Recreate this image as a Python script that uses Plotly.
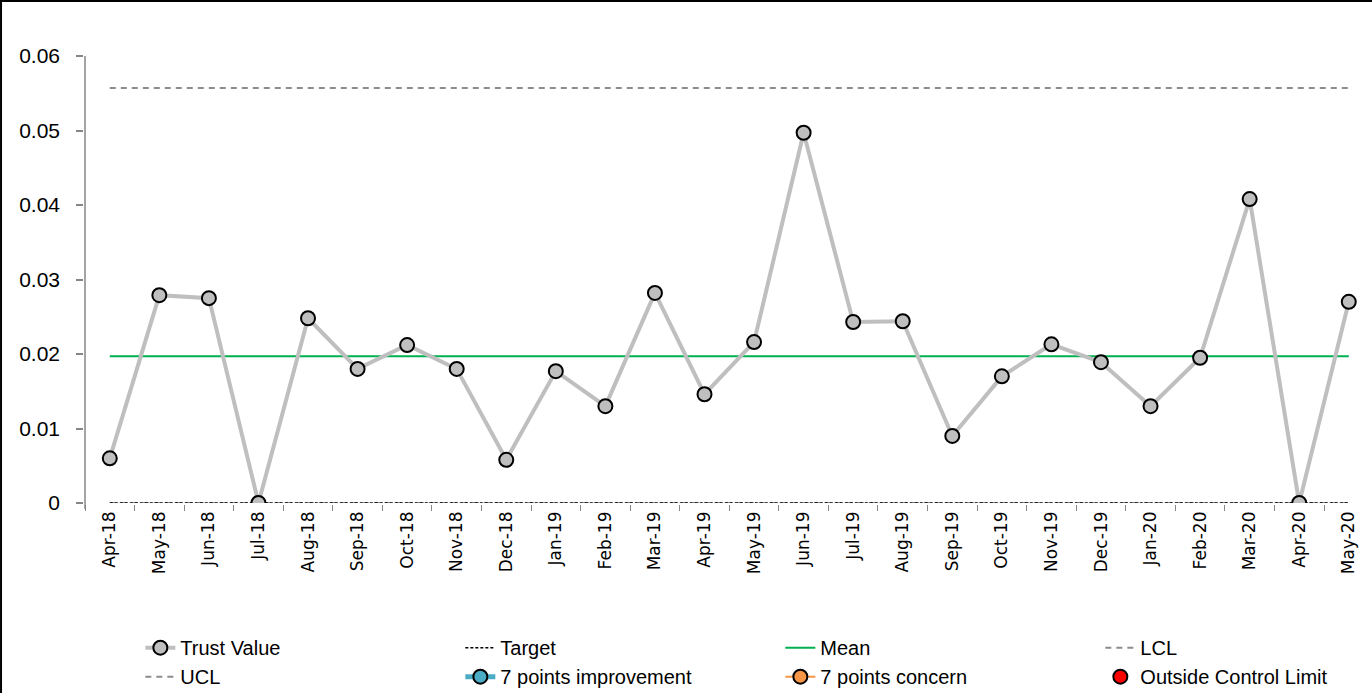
import plotly.graph_objects as go

months = ["Apr-18", "May-18", "Jun-18", "Jul-18", "Aug-18", "Sep-18", "Oct-18", "Nov-18",
          "Dec-18", "Jan-19", "Feb-19", "Mar-19", "Apr-19", "May-19", "Jun-19", "Jul-19",
          "Aug-19", "Sep-19", "Oct-19", "Nov-19", "Dec-19", "Jan-20", "Feb-20", "Mar-20",
          "Apr-20", "May-20"]
trust_value = [0.0060, 0.0279, 0.0275, 0.0000, 0.0248, 0.0180, 0.0212, 0.0180,
               0.0058, 0.0177, 0.0130, 0.0282, 0.0146, 0.0216, 0.0497, 0.0243,
               0.0244, 0.0090, 0.0170, 0.0213, 0.0189, 0.0130, 0.0195, 0.0408,
               0.0000, 0.0270]
target_value = 0.0
mean_value = 0.0197
lcl_value = 0.0
ucl_value = 0.0557
improvement_7pts = [None] * len(months)
concern_7pts = [None] * len(months)
outside_limit = [None] * len(months)
y_ticks = [0, 0.01, 0.02, 0.03, 0.04, 0.05, 0.06]

n = len(months)
fig = go.Figure()

fig.add_trace(go.Scatter(x=months, y=trust_value, name="Trust Value", mode="lines+markers",
                         line=dict(color="#BFBFBF", width=4),
                         marker=dict(size=14, color="#BFBFBF", line=dict(color="#000000", width=2)),
                         cliponaxis=False, zorder=2))
fig.add_trace(go.Scatter(x=months, y=[target_value] * n, name="Target", mode="lines",
                         line=dict(color="#000000", width=1.5, dash="3px,2px"), zorder=1))
fig.add_trace(go.Scatter(x=months, y=[mean_value] * n, name="Mean", mode="lines",
                         line=dict(color="#00B050", width=2), zorder=1))
fig.add_trace(go.Scatter(x=months, y=[lcl_value] * n, name="LCL", mode="lines",
                         line=dict(color="#8C8C8C", width=2, dash="6px,5px"), zorder=0))
fig.add_trace(go.Scatter(x=months, y=[ucl_value] * n, name="UCL", mode="lines",
                         line=dict(color="#8C8C8C", width=2, dash="6px,5px"), zorder=0))
fig.add_trace(go.Scatter(x=months, y=improvement_7pts, name="7 points improvement", mode="lines+markers",
                         line=dict(color="#4BACC6", width=5),
                         marker=dict(size=14, color="#4BACC6", line=dict(color="#000000", width=2))))
fig.add_trace(go.Scatter(x=months, y=concern_7pts, name="7 points concern", mode="lines+markers",
                         line=dict(color="#F79646", width=2),
                         marker=dict(size=14, color="#F79646", line=dict(color="#000000", width=2))))
fig.add_trace(go.Scatter(x=months, y=outside_limit, name="Outside Control Limit", mode="markers",
                         marker=dict(size=14, color="#FF0000", line=dict(color="#000000", width=2))))

plot_w = 1372 - 85
plot_h = 503 - 56

fig.update_layout(
    width=1372, height=693,
    margin=dict(l=85, r=0, t=56, b=190, autoexpand=False),
    paper_bgcolor="white", plot_bgcolor="white",
    showlegend=True,
    legend=dict(orientation="h", x=0.043, xanchor="left", y=-0.28, yanchor="top",
                entrywidth=275, entrywidthmode="pixels",
                font=dict(family="Liberation Sans Narrow, Liberation Sans, Arial", size=20, color="#000000"),
                bgcolor="rgba(0,0,0,0)"),
    xaxis=dict(type="category", range=[-0.5, -0.5 + plot_w / 49.56],
               showline=True, linecolor="#868686", linewidth=1.5,
               ticks="outside", ticklen=6, tickcolor="#868686", tickson="boundaries",
               tickangle=-90, showgrid=False, zeroline=False,
               tickfont=dict(family="DejaVu Sans", size=17, color="#000000")),
    yaxis=dict(range=[0, 0.06], tickvals=y_ticks, ticktext=[str(v) for v in y_ticks],
               showline=True, linecolor="#868686", linewidth=1.5,
               ticks="outside", ticklen=7, tickcolor="#868686", tickwidth=1.5, ticklabelstandoff=12,
               showgrid=False, zeroline=False,
               tickfont=dict(family="Liberation Sans, Arial", size=21, color="#000000")),
    shapes=[
        # y axis line
        dict(type="line", xref="paper", yref="paper", x0=0, x1=0, y0=-6 / plot_h, y1=1,
             line=dict(color="#868686", width=1.5), layer="above"),
        # chart border (left and top)
        dict(type="line", xref="paper", yref="paper", x0=-85 / plot_w + 0.0008, x1=-85 / plot_w + 0.0008,
             y0=-190 / plot_h, y1=1 + 56 / plot_h, line=dict(color="#000000", width=2)),
        dict(type="line", xref="paper", yref="paper", x0=-85 / plot_w, x1=1,
             y0=1 + 56 / plot_h - 0.002, y1=1 + 56 / plot_h - 0.002, line=dict(color="#000000", width=2)),
    ],
)

fig.write_html("out.html")
